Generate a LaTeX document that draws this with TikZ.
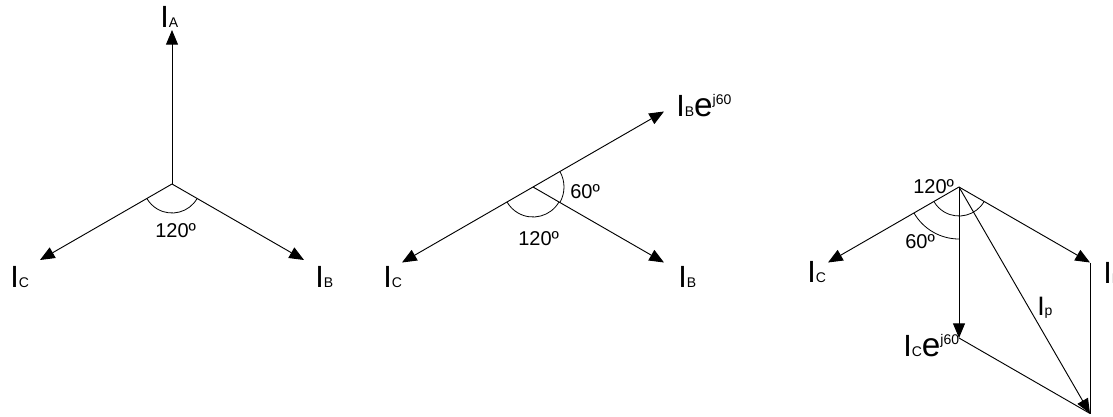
\documentclass[tikz,border=0pt]{standalone}
\usepackage{fontspec}
\setmainfont{Liberation Sans}
\usetikzlibrary{arrows.meta}
\newcommand\bigf{\fontsize{23}{23}\selectfont}
\newcommand\midf{\fontsize{20}{20}\selectfont}
\newcommand\subf{\fontsize{10.5}{10.5}\selectfont}
\newcommand\angf{\fontsize{15}{15}\selectfont}
\newcommand\ef{\fontsize{25}{25}\selectfont}
\newcommand\ejsix{{\ef e}\raisebox{9pt}{\subf j60}}
\begin{document}
\begin{tikzpicture}[x=0.75pt,y=-0.75pt,
  vec/.style={line width=0.7pt,-{Triangle[length=11pt,width=9pt]}},
  seg/.style={line width=0.7pt},
  arcl/.style={line width=0.6pt},
  lbl/.style={inner sep=0pt,anchor=base west},
]
\useasboundingbox (0,0) rectangle (1113,417);
% ---------- diagram 1
\coordinate (O1) at (172,184);
\coordinate (A1) at (172,30);
\coordinate (C1) at (40,260);
\coordinate (B1) at (304,260);
\draw[vec] (O1) -- (A1);
\draw[vec] (O1) -- (C1);
\draw[vec] (O1) -- (B1);
\draw[arcl] ([shift={(30:29)}]O1) arc[start angle=30,end angle=150,radius=29];
\node[lbl] (lA1) at (160,28) {\bigf I\subf A};
\node[lbl] (lC1) at (10,287) {\bigf I\subf C};
\node[lbl] (lB1) at (315,287) {\bigf I\subf B};
\node[lbl] (g1) at (155,237) {\angf 120º};
% ---------- diagram 2
\coordinate (O2) at (533,187);
\coordinate (E2) at (664,111.5);
\coordinate (C2) at (402,262.5);
\coordinate (B2) at (664,262.5);
\draw[vec] (O2) -- (E2);
\draw[vec] (O2) -- (C2);
\draw[vec] (O2) -- (B2);
\draw[arcl] ([shift={(30:30)}]O2) arc[start angle=30,end angle=150,radius=30];
\draw[arcl] ([shift={(-30:31)}]O2) arc[start angle=-30,end angle=30,radius=31];
\node[lbl] (lE2) at (676,117) {\bigf I\subf B\ejsix};
\node[lbl] (lC2) at (383,287) {\bigf I\subf C};
\node[lbl] (lB2) at (678,287) {\bigf I\subf B};
\node[lbl] (g2a) at (570,198) {\angf 60º};
\node[lbl] (g2b) at (518,245) {\angf 120º};
% ---------- diagram 3
\coordinate (O3) at (959,187);
\coordinate (C3) at (828,262.5);
\coordinate (B3) at (1090,262.5);
\coordinate (E3) at (959,338);
\coordinate (P3) at (1090,413.5);
\draw[vec] (O3) -- (C3);
\draw[vec] (O3) -- (B3);
\draw[vec] (O3) -- (E3);
\draw[vec] (O3) -- (P3);
\draw[seg] (E3) -- (P3);
\draw[seg] (B3) -- (P3);
\draw[arcl] ([shift={(30:29)}]O3) arc[start angle=30,end angle=150,radius=29];
\draw[arcl] ([shift={(90:52)}]O3) arc[start angle=90,end angle=150,radius=52];
\node[lbl] (lC3) at (807,282) {\bigf I\subf C};
\node[lbl] (lB3) at (1103,283) {\bigf I\subf B};
\node[lbl] (lp3) at (1037,315) {\midf I\subf p};
\node[lbl] (lE3) at (903,356) {\bigf I\subf C\ejsix};
\node[lbl] (g3a) at (905,248) {\angf 60º};
\node[lbl] (g3b) at (913,193) {\angf 120º};
\end{tikzpicture}
\end{document}
